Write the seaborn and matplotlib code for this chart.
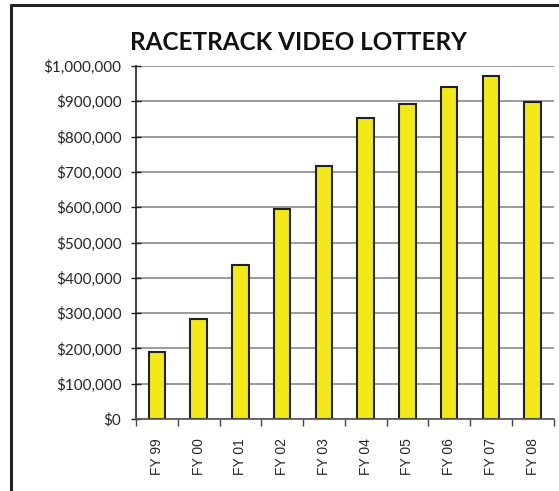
"""Racetrack video lottery revenue by fiscal year."""

import matplotlib

matplotlib.use("Agg")

import matplotlib.pyplot as plt
import pandas as pd
import seaborn as sns
from matplotlib.lines import Line2D
from matplotlib.ticker import FuncFormatter, MultipleLocator

years = ["FY 99", "FY 00", "FY 01", "FY 02", "FY 03", "FY 04", "FY 05", "FY 06", "FY 07", "FY 08"]
revenue = [190000, 284000, 437000, 596000, 716000, 853000, 893000, 941000, 972000, 898000]

sns.set_theme(style="white")
plt.rcParams["font.family"] = ["Lato", "DejaVu Sans"]

df = pd.DataFrame({"year": years, "revenue": revenue})

fig = plt.figure(figsize=(5.59, 4.91), dpi=100)
ax = fig.add_axes([136 / 559, 1 - 419 / 491, (553.5 - 136) / 559, (419 - 66) / 491])

sns.barplot(data=df, x="year", y="revenue", ax=ax, color="#F2E81A", width=0.39,
            edgecolor="#222222", linewidth=1.5, saturation=1)

ax.set_ylim(0, 1_000_000)
ax.set_xlim(-0.5, len(years) - 0.5)
ax.yaxis.set_major_locator(MultipleLocator(100_000))
ax.yaxis.set_major_formatter(FuncFormatter(lambda v, _: f"${v:,.0f}"))
ax.grid(axis="y", color="#8a8a8a", linewidth=1.2)
ax.set_axisbelow(True)

# category boundary ticks on x
ax.set_xticks([i - 0.5 for i in range(len(years) + 1)], minor=True)
ax.set_xticks(range(len(years)))
ax.set_xticklabels(years, rotation=90, fontsize=10, family=["Liberation Sans", "DejaVu Sans"])
ax.tick_params(axis="x", which="major", length=0, pad=14)
ax.tick_params(axis="x", which="minor", length=5, width=1, color="#444444", direction="out", bottom=True)
ax.tick_params(axis="y", length=7, width=1, color="#222222", direction="inout", left=True,
               labelsize=11, pad=7)

ax.set_xlabel("")
ax.set_ylabel("")
for side in ["top", "right"]:
    ax.spines[side].set_visible(False)
ax.spines["left"].set_color("#222222")
ax.spines["left"].set_linewidth(1.2)
ax.spines["bottom"].set_color("#555555")
ax.spines["bottom"].set_linewidth(1.2)

fig.text(298 / 559, 1 - 43 / 491, "RACETRACK VIDEO LOTTERY", ha="center", va="center",
         fontsize=17.5, fontweight="bold", color="#111111")

# outer chart frame: only the top and left edges fall inside the picture
fx, fy = 11 / 559, 1 - 5 / 491
fig.add_artist(Line2D([fx, 1.0], [fy, fy], transform=fig.transFigure, color="#222222", linewidth=2.2))
fig.add_artist(Line2D([fx, fx], [0.0, fy], transform=fig.transFigure, color="#222222", linewidth=2.2))

fig.savefig("out.png", dpi=100)
